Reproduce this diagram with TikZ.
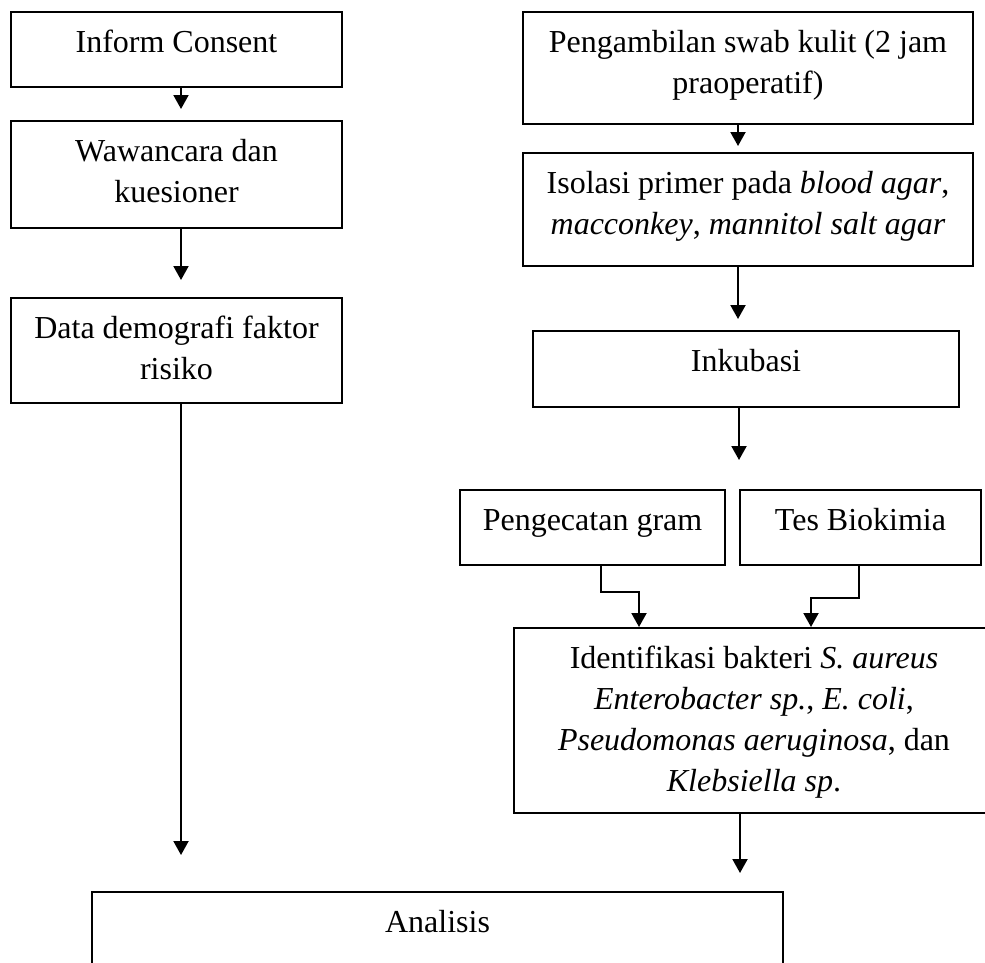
\documentclass[tikz,border=0pt]{standalone}
\usepackage{fontspec}
\setmainfont{Liberation Serif}
\usetikzlibrary{arrows.meta}
\newcommand{\bxt}[3]{\parbox[c][#2][t]{#1}{\centering\rule{0pt}{40pt}#3}}
\tikzset{
  box/.style={draw, line width=2pt, inner sep=0pt, anchor=north west, font=\fontsize{32}{41}\selectfont},
  arr/.style={line width=2pt, -{Triangle[length=14pt,width=15pt]}}
}
\begin{document}
\begin{tikzpicture}[x=1pt,y=-1pt]
\useasboundingbox (0,0) rectangle (985,962);
\clip (0,0) rectangle (985,962);
\fill[white] (0,0) rectangle (985,962);
% left column
\node[box] (inform) at (10,11) {\bxt{331pt}{75pt}{Inform Consent}};
\node[box] (waw) at (10,120) {\bxt{331pt}{107pt}{Wawancara dan\\kuesioner}};
\node[box] (data) at (10,297) {\bxt{331pt}{105pt}{Data demografi faktor\\risiko}};
% right column
\node[box] (peng) at (522,11) {\bxt{450pt}{112pt}{Pengambilan swab kulit (2 jam\\praoperatif)}};
\node[box] (iso) at (522,152) {\bxt{450pt}{113pt}{Isolasi primer pada \textit{blood agar},\\\textit{macconkey}, \textit{mannitol salt agar}}};
\node[box] (inku) at (532,330) {\bxt{426pt}{76pt}{Inkubasi}};
\node[box] (gram) at (459,489) {\bxt{265pt}{75pt}{Pengecatan gram}};
\node[box] (tes) at (739,489) {\bxt{241pt}{75pt}{Tes Biokimia}};
\node[box] (iden) at (513,627) {\bxt{480pt}{185pt}{Identifikasi bakteri \textit{S. aureus}\\\textit{Enterobacter sp.}, \textit{E. coli},\\\textit{Pseudomonas aeruginosa}, dan\\\textit{Klebsiella sp}.}};
\node[box] (anal) at (91,891) {\bxt{691pt}{110pt}{Analisis}};
\coordinate (inkuend) at (739,460);
% connectors
\draw[arr, shorten >=11pt] ([xshift=4.5pt]inform.south) -- ([xshift=4.5pt]inform.south |- waw.north);
\draw[arr, shorten >=17pt] ([xshift=4.5pt]waw.south) -- ([xshift=4.5pt]waw.south |- data.north);
\draw[arr, shorten >=36pt] ([xshift=4.5pt]data.south) -- ([xshift=4.5pt]data.south |- anal.north);
\draw[arr, shorten >=6pt] ([xshift=-10pt]peng.south) -- ([xshift=-10pt]peng.south |- iso.north);
\draw[arr, shorten >=11pt] ([xshift=-10pt]iso.south) -- ([xshift=-10pt]iso.south |- inku.north);
\draw[arr] (inkuend |- inku.south) -- (inkuend);
\draw[arr] ([xshift=8.5pt]gram.south) -- ++(0,26) -| (639,0 |- iden.north);
\draw[arr] ([xshift=-1.5pt]tes.south) -- ++(0,32) -| (811,0 |- iden.north);
\draw[arr, shorten >=18pt] ([xshift=-14pt]iden.south) -- ([xshift=-14pt]iden.south |- anal.north);
\end{tikzpicture}
\end{document}
